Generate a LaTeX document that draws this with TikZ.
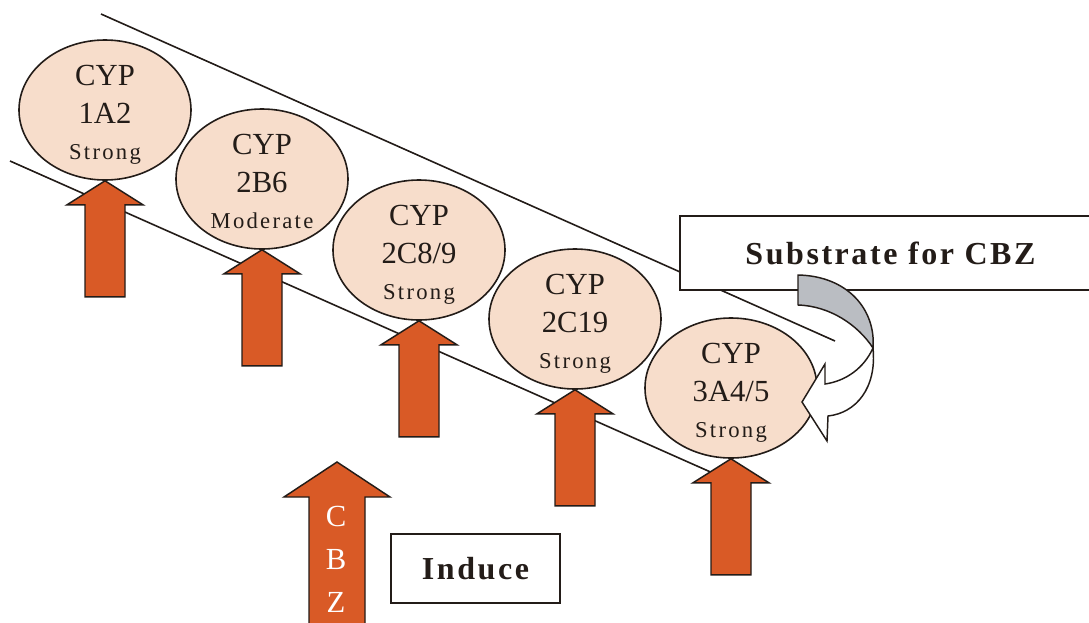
\documentclass[tikz,border=0pt]{standalone}
\usepackage{fontspec}
\setmainfont{Liberation Serif}
\newfontfamily\lsfont[LetterSpace=10]{Liberation Serif}
\newfontfamily\lsbold[LetterSpace=8]{Liberation Serif}
\usetikzlibrary{shapes.geometric}
\definecolor{peach}{RGB}{247,221,203}
\definecolor{orng}{RGB}{217,90,38}
\definecolor{dk}{RGB}{35,28,24}
\definecolor{grayband}{RGB}{186,189,194}
\tikzset{
  enz/.style={ellipse, draw=dk, line width=1.2pt, fill=peach, minimum width=129pt, minimum height=105pt, inner sep=0pt},
  big/.style={anchor=base, inner sep=0pt, text=dk, font=\fontsize{23}{26}\selectfont},
  small/.style={anchor=base, inner sep=0pt, text=dk, font=\lsfont\fontsize{17}{20}\selectfont},
  arrowstyle/.style={draw=dk, line width=1.1pt, fill=orng, line join=miter},
  rail/.style={draw=dk, line width=1.2pt},
  labelbox/.style={draw=dk, line width=1.2pt, fill=white, inner sep=0pt, text=dk, font=\lsbold\bfseries\fontsize{24}{27}\selectfont},
  blockarrow/.pic={\path[arrowstyle] (0,0) -- (38,24) -- (20,24) -- (20,116) -- (-20,116) -- (-20,24) -- (-38,24) -- cycle;},
  cbzarrow/.pic={\path[arrowstyle] (0,0) -- (53,35) -- (28,35) -- (28,180) -- (-28,180) -- (-28,35) -- (-53,35) -- cycle;}
}
\begin{document}
\begin{tikzpicture}[x=0.75pt,y=-0.75pt]
\useasboundingbox (0,0) rectangle (1089,622);
\clip (0,0) rectangle (1089,622);
% rails
\coordinate (u1) at (101,14);
\coordinate (u2) at (835,341);
\coordinate (l1) at (10,161);
\coordinate (l2) at (715,474);
\draw[rail] (u1) -- (u2);
\draw[rail] (l1) -- (l2);
% enzymes
\node[enz] (e1) at (105,110) {};
\node[enz] (e2) at (262,179) {};
\node[enz] (e3) at (419,250) {};
\node[enz] (e4) at (575,319) {};
\node[enz] (e5) at (731,388) {};
\node[big] (t1a) at (105,85) {CYP};
\node[big] (t1b) at (105,123) {1A2};
\node[small] (t1c) at (105,159) {Strong};
\node[big] (t2a) at (262,154) {CYP};
\node[big] (t2b) at (262,192) {2B6};
\node[small] (t2c) at (262,228) {Moderate};
\node[big] (t3a) at (419,225) {CYP};
\node[big] (t3b) at (419,263) {2C8/9};
\node[small] (t3c) at (419,299) {Strong};
\node[big] (t4a) at (575,294) {CYP};
\node[big] (t4b) at (575,332) {2C19};
\node[small] (t4c) at (575,368) {Strong};
\node[big] (t5a) at (731,363) {CYP};
\node[big] (t5b) at (731,401) {3A4/5};
\node[small] (t5c) at (731,437) {Strong};
% induction arrows
\pic at (e1.south) {blockarrow};
\pic at (e2.south) {blockarrow};
\pic at (e3.south) {blockarrow};
\pic at (e4.south) {blockarrow};
\pic at (e5.south) {blockarrow};
% CBZ arrow
\coordinate (cbztip) at (337,462);
\pic at (cbztip) {cbzarrow};
\node[big, text=white] (c1) at (336,526) {C};
\node[big, text=white] (c2) at (336,569) {B};
\node[big, text=white] (c3) at (336,612) {Z};
% boxes
\node[labelbox, anchor=west, minimum width=316pt, minimum height=55.5pt] (sub) at (679,253) {Substrate for CBZ};
\node[labelbox, minimum width=126.75pt, minimum height=51.75pt] (ind) at (475.5,568.5) {Induce};
% curved arrow
\path[draw=dk, line width=1.1pt, fill=grayband, line join=round]
  (798,275) .. controls (848,276) and (876,310) .. (873,348)
  .. controls (858,325) and (830,306) .. (798,305) -- cycle;
\path[draw=dk, line width=1.1pt, fill=white, line join=miter]
  (873,348) .. controls (877,388) and (856,413) .. (828,416)
  -- (827,441) -- (802,402) -- (825,364) -- (825,384)
  .. controls (846,381) and (864,368) .. (873,348) -- cycle;
\end{tikzpicture}
\end{document}
